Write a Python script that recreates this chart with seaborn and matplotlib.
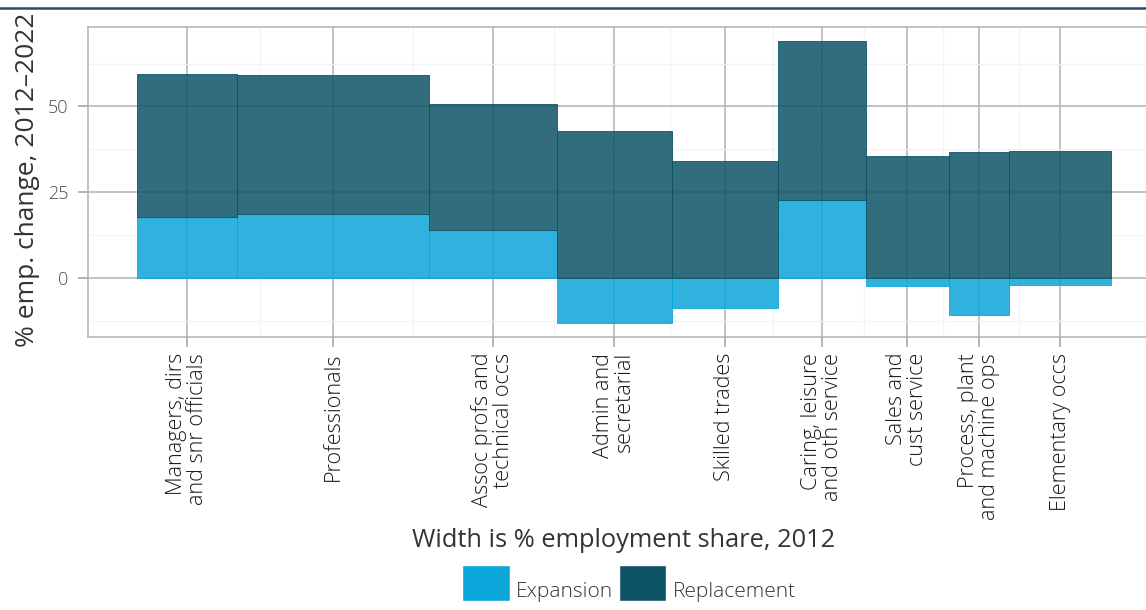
import numpy as np
import pandas as pd
import matplotlib
matplotlib.use("Agg")
import matplotlib.pyplot as plt
from matplotlib.lines import Line2D
from matplotlib.patches import Patch
import seaborn as sns

# Data
occupations = [
    "Managers, dirs\nand snr officials",
    "Professionals",
    "Assoc profs and\ntechnical occs",
    "Admin and\nsecretarial",
    "Skilled trades",
    "Caring, leisure\nand oth service",
    "Sales and\ncust service",
    "Process, plant\nand machine ops",
    "Elementary occs",
]
share_2012 = [10.3, 19.7, 13.1, 11.8, 10.9, 9.0, 8.5, 6.2, 10.5]
expansion = [17.6, 18.7, 13.9, -13.2, -8.8, 22.6, -2.4, -10.8, -2.1]
replacement = [42.0, 40.6, 36.9, 42.7, 34.0, 46.5, 35.5, 36.6, 36.9]

blue = "#0ba5da"
navy = "#0e5468"

# Variable-width bars: each occupation spans its employment share
edges = [0.0] + list(np.cumsum(share_2012))
df = pd.DataFrame({
    "occupation": occupations,
    "centre": (np.array(edges[:-1]) + np.array(edges[1:])) / 2,
    "expansion": expansion,
    "replacement": replacement,
})
df["base"] = df["expansion"].clip(lower=0)

sns.set_theme(style="whitegrid")
plt.rcParams["font.family"] = ["Open Sans", "DejaVu Sans"]
plt.rcParams["font.weight"] = "light"

fig = plt.figure(figsize=(11.46, 6.10), dpi=100)
ax = fig.add_axes([88 / 1146, 273 / 610, 1072 / 1146, 310 / 610])

sns.histplot(data=df, x="centre", weights="expansion", bins=edges,
             color=blue, alpha=0.85, edgecolor=blue, linewidth=0.6, ax=ax)
sns.histplot(data=df, x="centre", weights="replacement", bins=edges,
             color=navy, alpha=0.85, edgecolor=navy, linewidth=0.6, ax=ax)
# replacement sits on top of positive expansion, or on zero otherwise
for bar, b in zip(ax.containers[-1], df["base"]):
    bar.set_y(b)

# Scales (5% padding like the original)
top = (df["base"] + df["replacement"]).max()
bottom = df["expansion"].min()
pad = 0.05 * (top - bottom)
ax.set_xlim(-5, 105)
ax.set_ylim(bottom - pad, top + pad)

ax.set_xticks(df["centre"])
ax.set_xticks((df["centre"].values[:-1] + df["centre"].values[1:]) / 2, minor=True)
ax.set_yticks([0, 25, 50])
ax.set_yticks([-12.5, 12.5, 37.5, 62.5], minor=True)
ax.set_xticklabels(occupations, rotation=90, ha="center", va="top",
                   multialignment="right", fontsize=15.6, color="#1a1a1a",
                   linespacing=1.0)
ax.tick_params(axis="y", labelsize=13, labelcolor="#4d4d4d", pad=6.5)
ax.tick_params(axis="x", pad=4)
ax.tick_params(which="major", direction="out", length=7.5, width=1.4,
               color="#b3b3b3", bottom=True, left=True)
ax.tick_params(which="minor", length=0)

ax.set_axisbelow(True)
ax.grid(which="major", color="#b3b3b3", linewidth=1.1)
ax.grid(which="minor", color="#f3f3f3", linewidth=0.9)
for side in ["left", "top", "bottom"]:
    ax.spines[side].set_color("#b3b3b3")
    ax.spines[side].set_linewidth(1.1)
ax.spines["right"].set_visible(False)

ax.set_xlabel("Width is % employment share, 2012", fontsize=18.3, color="#333333")
ax.xaxis.set_label_coords(0.5, -0.658)
ax.xaxis.label.set_va("center")
ax.set_ylabel("% emp. change, 2012\u20132022", fontsize=19, color="#333333")
ax.yaxis.set_label_coords(-0.056, 0.506)
ax.yaxis.label.set_va("center")

# Header rule
fig.add_artist(Line2D([0, 1], [1 - 8 / 610] * 2, transform=fig.transFigure,
                      color="#1f4e79", linewidth=1.8))

handles = [Patch(facecolor=blue, label="Expansion"),
           Patch(facecolor=navy, label="Replacement")]
leg = fig.legend(handles=handles, loc="lower center", bbox_to_anchor=(629 / 1146, 9 / 610),
                 ncol=2, frameon=False, fontsize=15, handlelength=2.26, handleheight=2.26,
                 handletextpad=0.3, columnspacing=0.3, borderpad=0, borderaxespad=0,
                 labelcolor="#333333")
# centre the labels on the keys
for t in leg.get_texts():
    t.set_y(-7.5)

fig.savefig("out.png", dpi=100)
